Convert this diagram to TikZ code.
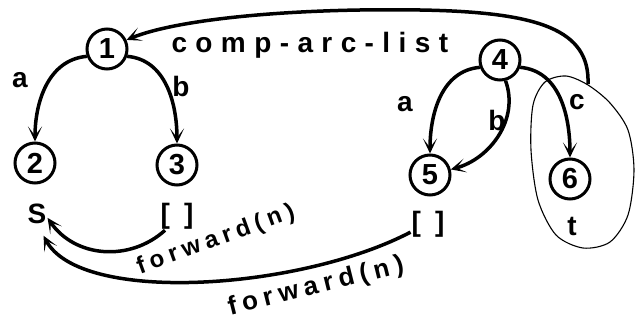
\documentclass[tikz,border=0pt]{standalone}
\usepackage{fontspec}
\setmainfont{Liberation Sans}
\newfontfamily\arclistfont[LetterSpace=30]{Liberation Sans}
\newfontfamily\fwdfont[LetterSpace=22]{Liberation Sans}
\usetikzlibrary{arrows.meta,positioning}

\begin{document}
\begin{tikzpicture}[
  x=1pt,y=-1pt,
  state/.style={circle,draw=black,line width=3pt,minimum size=40pt,inner sep=0pt,
                font=\fontsize{29}{30}\selectfont\bfseries},
  lab/.style={font=\fontsize{28}{30}\selectfont\bfseries,inner sep=1pt},
  fwdlab/.style={font=\fontsize{24}{26}\fwdfont\bfseries,inner sep=0pt},
  edge/.style={-{Stealth[length=15pt,width=14pt,inset=9pt]},line width=3.5pt},
  loopline/.style={line width=1.1pt}
]
\useasboundingbox (0,0) rectangle (635,324);

% left tree
\node[state] (n1) at (107,49) {1};
\node[state] (n2) at (35,163) {2};
\node[state] (n3) at (177,165) {3};
\node[lab] (lS) at (37,214) {S};
\node[lab] (l3) at (177,216) {[\hspace{14pt}]};
\draw[edge] (n1.200) to[out=185,in=90] (n2);
\draw[edge] (n1.-20) to[out=-5,in=90] (n3);
\node[lab] at (20,80) {a};
\node[lab] at (181,86) {b};

% right tree
\node[state] (n4) at (500,60) {4};
\node[state] (n5) at (430,175) {5};
\node[state] (n6) at (570,179) {6};
\node[lab] (l5) at (428,224) {[\hspace{14pt}]};
\node[lab] (lt) at (572,226) {t};
\draw[edge] (n4.200) to[out=185,in=90] (n5);
\draw[edge] (n4.-75) to[out=-70,in=15] (n5);
\draw[edge] (n4.-20) to[out=-5,in=90] (n6);
\node[lab] at (405,104) {a};
\node[lab] at (497,120) {b};
\node[lab] at (577,102) {c};

% component around 6
\draw[loopline] plot[smooth cycle] coordinates {(588,85) (566,76) (545,82)
  (533,105) (531,150) (538,200) (556,235) (583,248) (610,242) (628,215)
  (634,170) (628,130) (610,103)};
\coordinate (cA) at (588,84);
\draw[edge] (cA) .. controls (590,30) and (540,12) .. (420,10)
  .. controls (300,8) and (180,18) .. (n1.25);
\node[font=\fontsize{28}{30}\arclistfont\bfseries,anchor=west] at (168,45) {comp-arc-list};

% forwards
\draw[edge] (l3.230) .. controls (130,262) and (75,258) .. (lS.-20);
\node[fwdlab,rotate=20] at (216,240) {forward(n)};
\draw[edge,shorten >=12pt] (l5.205) .. controls (300,290) and (80,305) .. (lS.-85);
\node[fwdlab,font=\fontsize{26}{28}\fwdfont\bfseries,rotate=14] at (316,287) {forward(n)};
\end{tikzpicture}
\end{document}
